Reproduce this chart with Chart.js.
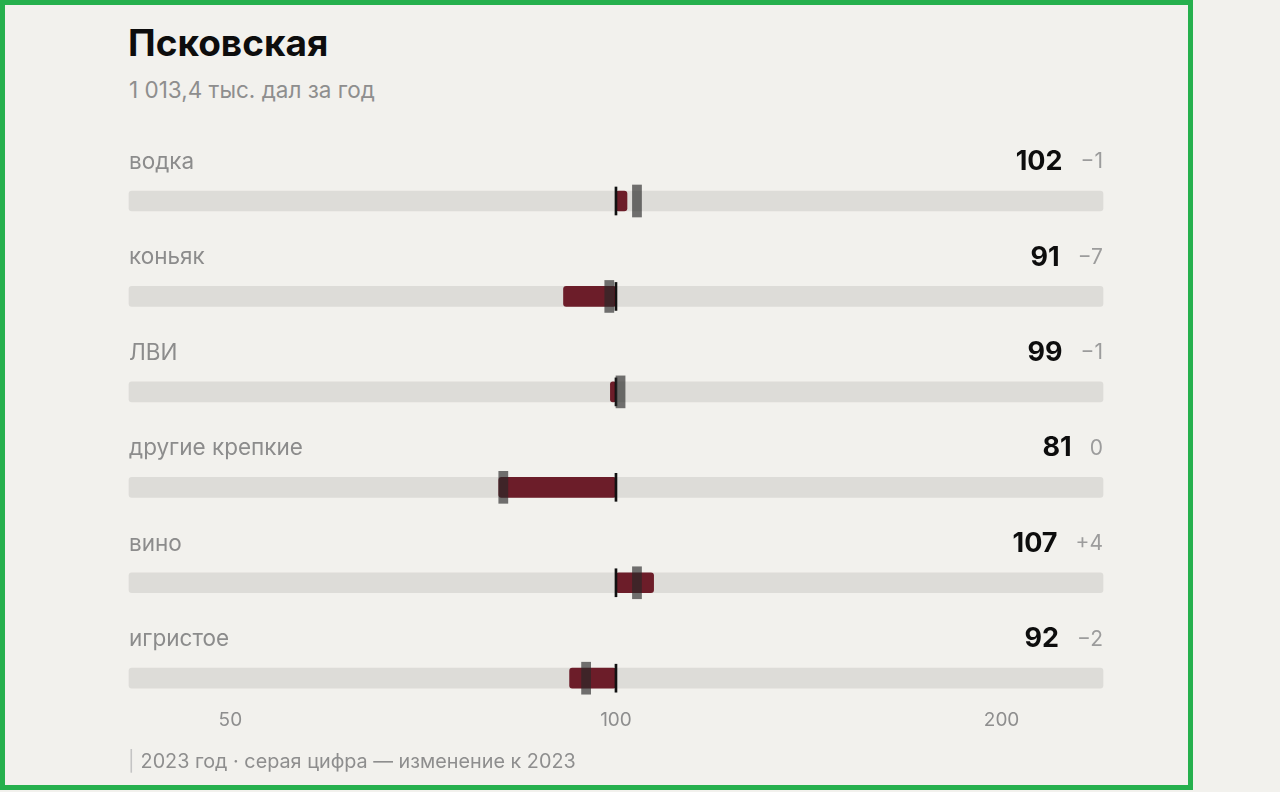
<!DOCTYPE html>
<html lang="ru">
<head>
  <meta charset="UTF-8">
  <title>Псковская</title>
  <script src="https://cdn.jsdelivr.net/npm/chart.js"></script>
  <style>
    html, body { margin: 0; padding: 0; background: #f2f1ed; }
    body { width: 1280px; height: 792px; position: relative; overflow: hidden; font-family: Inter, "Noto Sans", sans-serif; }
    .frame { position: absolute; left: 0; top: 0; width: 1183px; height: 780px; border: 5px solid #26b04d; }
    #titulo { position: absolute; left: 128px; top: 20px; margin: 0; font-size: 37px; line-height: 45px; font-weight: 700; color: #0d0d0d; }
    #subtitulo { position: absolute; left: 129px; top: 76px; font-size: 22.5px; line-height: 28px; color: #8e8e8e; }
    #nota { position: absolute; left: 128px; top: 749px; font-size: 19.8px; line-height: 24px; color: #8e8e8e; }
    #nota span { color: #c4c4c4; margin-right: 6px; }
    #grafico-box { position: absolute; left: 0; top: 0; width: 1280px; height: 792px; }
  </style>
</head>
<body>
  <div class="frame"></div>
  <h1 id="titulo">Псковская</h1>
  <div id="subtitulo">1 013,4 тыс. дал за год</div>
  <div id="grafico-box"><canvas id="grafico"></canvas></div>
  <div id="nota"><span>|</span>2023 год · серая цифра — изменение к 2023</div>

<script>
  // categorias e valores (índice, 100 = sem mudança)
  const categorias = ['водка', 'коньяк', 'ЛВИ', 'другие крепкие', 'вино', 'игристое'];
  const valores = [102, 91, 99, 81, 107, 92];
  const valores2023 = [103, 98, 100, 81, 103, 94];
  const mudancas = ['−1', '−7', '−1', '0', '+4', '−2'];
  const ticksX = [50, 100, 200];
  const eixoMin = 41.67;
  const eixoMax = 240;
  const base = 100;

  // marcador cinza e linha do 100: largura fixa em escala log
  const larguraMarca = 1.0165;
  const larguraLinha = 1.0018;

  const fonte = 'Inter, "Noto Sans", sans-serif';

  // plugin que escreve nome, valor e mudança acima de cada barra
  const rotulosLinhas = {
    id: 'rotulosLinhas',
    afterDraw(chart) {
      const ctx = chart.ctx;
      const yScale = chart.scales.y;
      const area = chart.chartArea;
      ctx.save();
      ctx.textBaseline = 'middle';
      for (let i = 0; i < categorias.length; i++) {
        const y = yScale.getPixelForValue(i) - 39;

        ctx.font = '22.5px ' + fonte;
        ctx.fillStyle = '#8c8c8c';
        ctx.textAlign = 'left';
        ctx.fillText(categorias[i], area.left, y);

        ctx.font = '21px ' + fonte;
        ctx.fillStyle = '#9c9c9c';
        ctx.textAlign = 'right';
        ctx.fillText(mudancas[i], area.right, y);
        const w = ctx.measureText(mudancas[i]).width;

        ctx.font = 'bold 27px ' + fonte;
        ctx.fillStyle = '#0d0d0d';
        ctx.fillText(String(valores[i]), area.right - w - 18, y);
      }
      ctx.restore();
    }
  };

  const trilho = categorias.map(() => [eixoMin, eixoMax]);
  const barras = valores.map(v => [Math.min(base, v), Math.max(base, v)]);
  const marcas = valores2023.map(v => [v, v * larguraMarca]);
  const linhas = categorias.map(() => [base / larguraLinha, base * larguraLinha]);

  new Chart(document.getElementById('grafico').getContext('2d'), {
    type: 'bar',
    data: {
      labels: categorias,
      datasets: [
        {
          label: 'trilho',
          data: trilho,
          backgroundColor: '#dddcd8',
          barThickness: 20,
          borderRadius: 3,
          borderSkipped: false,
          grouped: false,
          clip: false,
          order: 4
        },
        {
          label: '2024',
          data: barras,
          backgroundColor: '#6c1d29',
          barThickness: 20,
          borderRadius: 3,
          borderSkipped: false,
          grouped: false,
          clip: false,
          order: 3
        },
        {
          label: '100',
          data: linhas,
          backgroundColor: '#111111',
          barThickness: 28,
          grouped: false,
          clip: false,
          order: 2
        },
        {
          label: '2023',
          data: marcas,
          backgroundColor: 'rgba(40, 40, 40, 0.65)',
          barThickness: 32,
          grouped: false,
          clip: false,
          order: 1
        }
      ]
    },
    options: {
      indexAxis: 'y',
      responsive: true,
      maintainAspectRatio: false,
      animation: false,
      layout: {
        padding: { left: 129, right: 177, top: 201, bottom: 37 }
      },
      plugins: {
        legend: { display: false },
        tooltip: { enabled: false },
        title: { display: false }
      },
      scales: {
        x: {
          type: 'logarithmic',
          min: eixoMin,
          max: eixoMax,
          afterBuildTicks(scale) {
            scale.ticks = ticksX.map(v => ({ value: v }));
          },
          grid: { display: false },
          border: { display: false },
          ticks: {
            padding: 23,
            color: '#8e8e8e',
            font: { family: fonte, size: 19 },
            callback: v => String(v)
          }
        },
        y: {
          display: false,
          offset: false
        }
      }
    },
    plugins: [rotulosLinhas]
  });
</script>
</body>
</html>
